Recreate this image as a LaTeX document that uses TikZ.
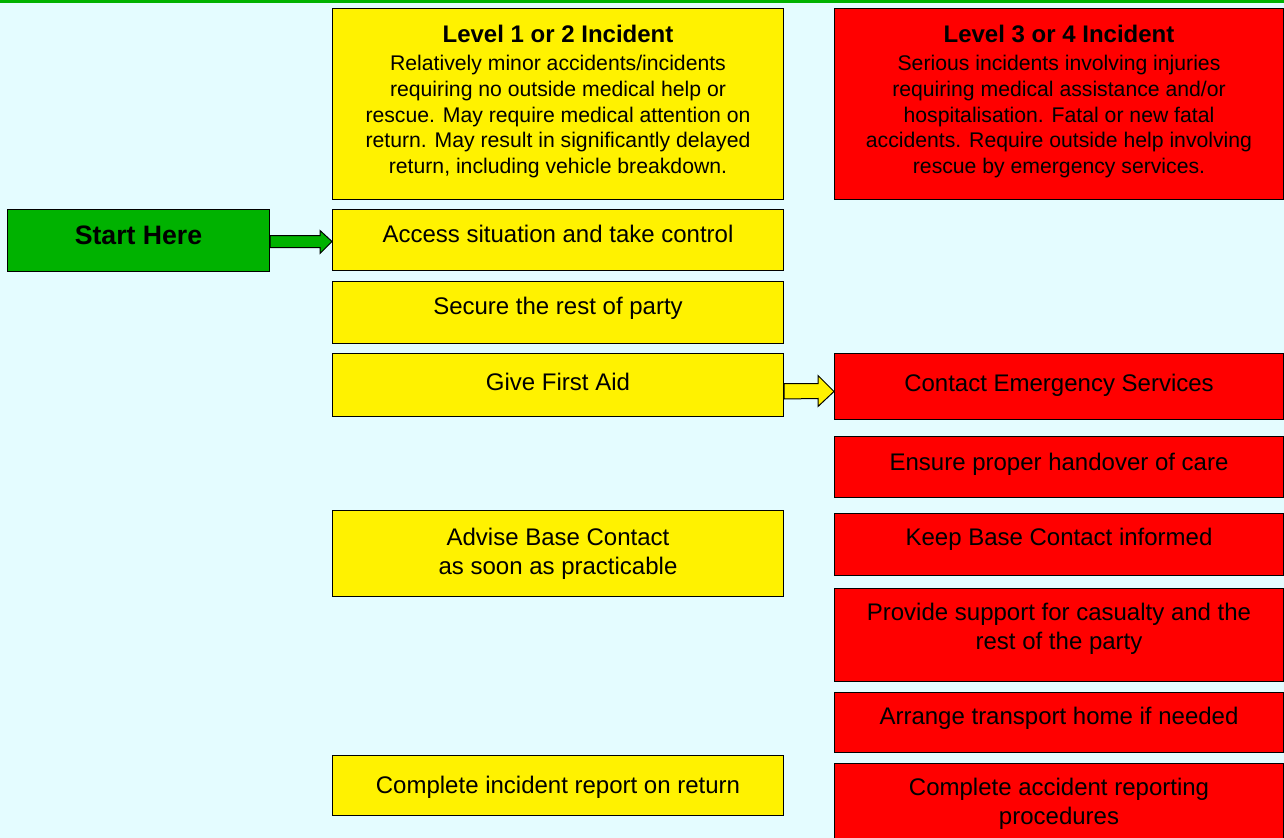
\documentclass[tikz,border=0pt]{standalone}
\usepackage{fontspec}
\setmainfont{Liberation Sans}
\usepackage{tikz}
\usetikzlibrary{positioning, calc}

\definecolor{bgcyan}{RGB}{228,252,255}
\definecolor{startgreen}{RGB}{0,178,0}

\begin{document}
\begin{tikzpicture}[x=0.75pt, y=-0.75pt]
  \tikzstyle{box}=[draw=black, line width=0.75pt, inner sep=0pt, align=center, anchor=north west, font=\fontsize{18}{21.5}\selectfont]
  \tikzstyle{lowbox}=[box, fill=yellow, minimum width=338.25pt]
  \tikzstyle{highbox}=[box, fill=red, minimum width=336.75pt]
  \tikzstyle{oneline}=[text height=13pt]
  \tikzstyle{headfont}=[font=\fontsize{15.9}{19.4}\selectfont]
  \tikzstyle{arrowshape}=[draw=black, line width=0.75pt, line join=miter]
  \newcommand{\headtitle}[1]{{\fontsize{18}{21}\selectfont\bfseries #1}\\[1.7pt]}

  % page
  \fill[bgcyan] (0, 0) rectangle (1284, 838);
  \fill[startgreen] (0, 0) rectangle (1284, 3);
  \useasboundingbox (0, 0) rectangle (1284, 838);

  % level 1 or 2 column
  \node (lowhead) at (332, 8) [lowbox, headfont, minimum height=143.25pt, text depth=7pt]
    {\headtitle{Level 1 or 2 Incident}Relatively minor accidents/incidents\\requiring no outside medical help or\\rescue. May require medical attention on\\return. May result in significantly delayed\\return, including vehicle breakdown.};
  \node (access) at (332, 209) [lowbox, oneline, text depth=9pt, minimum height=45.75pt] {Access situation and take control};
  \node (secure) at (332, 281) [lowbox, oneline, text depth=9.8pt, minimum height=46.5pt] {Secure the rest of party};
  \node (firstaid) at (332, 353) [lowbox, oneline, text depth=4.5pt, minimum height=47.25pt] {Give First Aid};
  \node (advise) at (332, 510) [lowbox, text depth=3.8pt, minimum height=64.5pt] {Advise Base Contact\\as soon as practicable};
  \node (report) at (332, 755) [lowbox, oneline, text depth=1pt, minimum height=45pt] {Complete incident report on return};

  % level 3 or 4 column
  \node (highhead) at (834, 8) [highbox, headfont, minimum height=143.25pt, text depth=7pt]
    {\headtitle{Level 3 or 4 Incident}Serious incidents involving injuries\\requiring medical assistance and/or\\hospitalisation. Fatal or new fatal\\accidents. Require outside help involving\\rescue by emergency services.};
  \node (emergency) at (834, 353) [highbox, oneline, text depth=5.3pt, minimum height=49.5pt] {Contact Emergency Services};
  \node (handover) at (834, 436) [highbox, oneline, text depth=7.5pt, minimum height=45.75pt] {Ensure proper handover of care};
  \node (informed) at (834, 513) [highbox, oneline, text depth=11.3pt, minimum height=46.5pt] {Keep Base Contact informed};
  \node (support) at (834, 588) [highbox, text depth=12.8pt, minimum height=69.75pt] {Provide support for casualty and the\\rest of the party};
  \node (transport) at (834, 692) [highbox, oneline, text depth=9.8pt, minimum height=45pt] {Arrange transport home if needed};
  \node (procedures) at (834, 763) [highbox, text depth=1pt, minimum height=58pt] {Complete accident reporting\\procedures};

  % start
  \node (start) at (7, 209) [box, oneline, text height=14.5pt, text depth=8pt, fill=startgreen, minimum width=196.5pt, minimum height=46.5pt, font=\fontsize{20}{24}\selectfont\bfseries] {Start Here};

  % block arrows
  \draw[arrowshape, fill=startgreen] ($(start.east)+(0,-5)$) -- ($(access.west)+(-12,-4.5)$)
    -- ($(access.west)+(-12,-9.5)$) -- ($(access.west)+(0,1.5)$) -- ($(access.west)+(-12,13.5)$)
    -- ($(access.west)+(-12,7.5)$) -- ($(start.east)+(0,7)$) -- cycle;
  \draw[arrowshape, fill=yellow] ($(firstaid.east)+(0,-1.5)$) -- ($(emergency.west)+(-16,-3)$)
    -- ($(emergency.west)+(-16,-11)$) -- ($(emergency.west)+(0,5)$) -- ($(emergency.west)+(-16,20)$)
    -- ($(emergency.west)+(-16,12)$) -- ($(firstaid.east)+(0,14)$) -- cycle;
\end{tikzpicture}
\end{document}
